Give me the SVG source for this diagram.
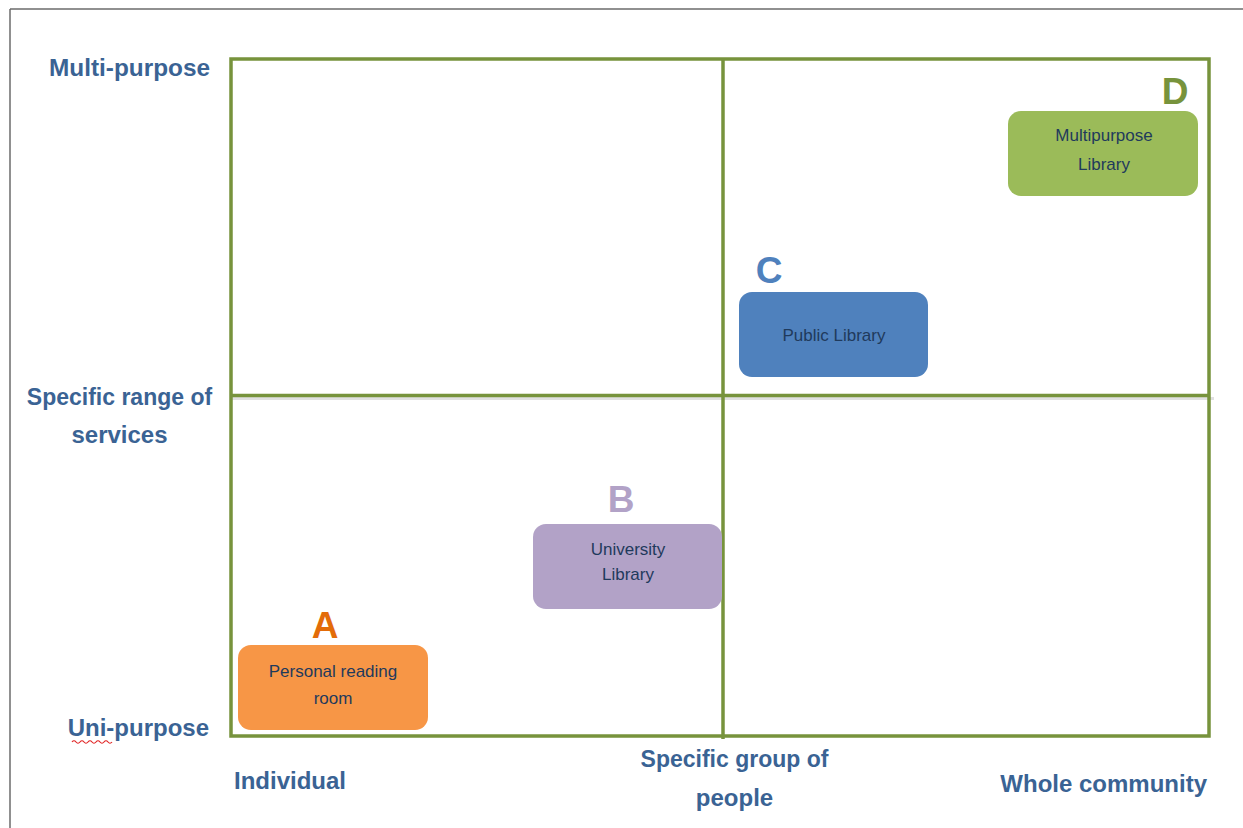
<svg xmlns="http://www.w3.org/2000/svg" width="1243" height="828" viewBox="0 0 1243 828">
<defs>
<style>
.axis{font-family:"Liberation Sans",Arial,sans-serif;font-weight:bold;font-size:24px;fill:#3A6394}
.narrow{font-size:23px}
.letter{font-family:"Liberation Sans",Arial,sans-serif;font-weight:bold;font-size:37px;text-anchor:middle}
.ntext{font-family:"Liberation Sans",Arial,sans-serif;font-size:17px;fill:#1F3A5C;text-anchor:middle}
.grid{stroke:#77933C;stroke-width:3.5;fill:none}
</style>
</defs>
<rect width="1243" height="828" fill="#ffffff"/>
<g id="frame" stroke="#6b6b6b" stroke-width="1.5" fill="none">
<line x1="10" y1="9" x2="1243" y2="9"/>
<line x1="10" y1="9" x2="10" y2="828"/>
</g>
<g id="connectors">
<line x1="232" y1="398.5" x2="1214" y2="398.5" stroke="#000" stroke-opacity="0.12" stroke-width="3"/>
<rect class="grid" x="231" y="59" width="978" height="677"/>
<line class="grid" x1="723" y1="59" x2="723" y2="739"/>
<line class="grid" x1="231" y1="395.5" x2="1209" y2="395.5"/>
</g>
<g id="axis-labels">
<text class="axis" x="210" y="76" text-anchor="end" textLength="161" lengthAdjust="spacingAndGlyphs">Multi-purpose</text>
<text class="axis narrow" x="119.5" y="405" text-anchor="middle">Specific range of</text>
<text class="axis" x="119.5" y="443" text-anchor="middle">services</text>
<text class="axis" x="209" y="736" text-anchor="end">Uni-purpose</text>
<path d="M72 742 q2 -2.5 4 0 t4 0 t4 0 t4 0 t4 0 t4 0 t4 0 t4 0 t4 0 t4 0" stroke="#E02020" stroke-width="1.2" fill="none"/>
<text class="axis" x="234" y="789">Individual</text>
<text class="axis narrow" x="734.5" y="767" text-anchor="middle">Specific group of</text>
<text class="axis" x="734.5" y="806" text-anchor="middle">people</text>
<text class="axis" x="1207" y="792" text-anchor="end">Whole community</text>
</g>
<g id="node-A">
<text class="letter" x="325" y="638" fill="#E36C09">A</text>
<rect x="238" y="645" width="190" height="85" rx="13" fill="#F79646"/>
<text class="ntext" x="333" y="677">Personal reading</text>
<text class="ntext" x="333" y="704">room</text>
</g>
<g id="node-B">
<text class="letter" x="621" y="512" fill="#B2A2C7">B</text>
<rect x="533" y="524" width="189" height="85" rx="13" fill="#B2A2C7"/>
<text class="ntext" x="628" y="555">University</text>
<text class="ntext" x="628" y="580">Library</text>
</g>
<g id="node-C">
<text class="letter" x="769" y="283" fill="#4F81BD">C</text>
<rect x="739" y="292" width="189" height="85" rx="13" fill="#4F81BD"/>
<text class="ntext" x="834" y="341">Public Library</text>
</g>
<g id="node-D">
<text class="letter" x="1175" y="104" fill="#77933C">D</text>
<rect x="1008" y="111" width="190" height="85" rx="13" fill="#9BBB59"/>
<text class="ntext" x="1104" y="141">Multipurpose</text>
<text class="ntext" x="1104" y="170">Library</text>
</g>
</svg>
